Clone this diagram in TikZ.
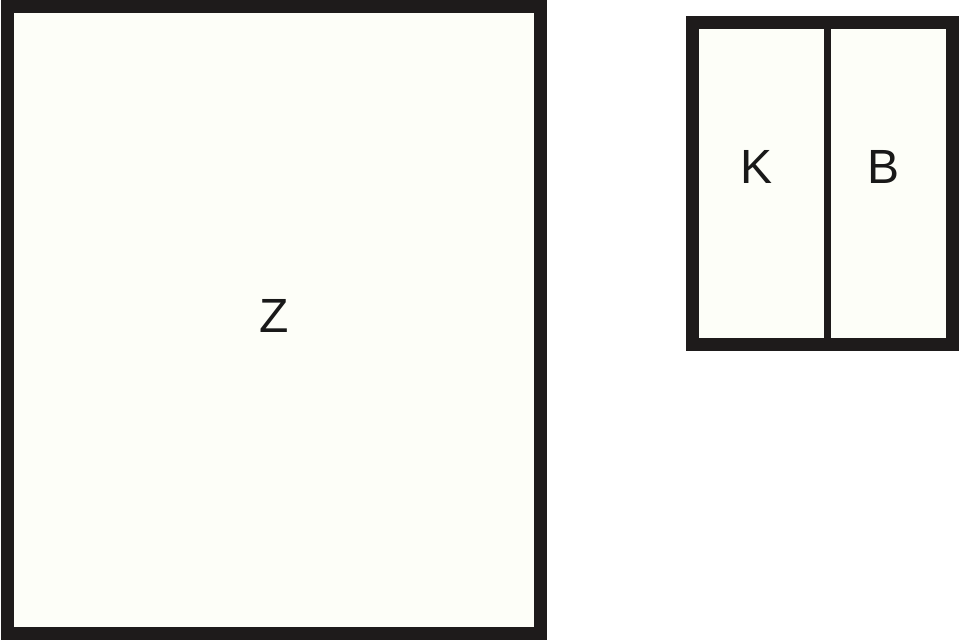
\documentclass[tikz,border=0pt]{standalone}
\usepackage{fontspec}
\setmainfont{Liberation Sans}
\usepackage{tikz}
\usetikzlibrary{backgrounds,calc,positioning}
\definecolor{wallfill}{HTML}{FDFEF8}
\definecolor{wallline}{HTML}{1E1B1B}
\tikzstyle{room}=[draw=wallline,fill=wallfill,line width=6.5pt]
\tikzstyle{partition}=[draw=wallline,line width=3.5pt]
\tikzstyle{label}=[inner sep=0pt,text=black!90,font=\fontsize{24}{28}\selectfont]

\begin{document}
\begin{tikzpicture}[x=0.5pt, y=-0.5pt]
    \useasboundingbox (0,0) rectangle (960,640);

    % big room
    \draw[room] (7,6.5) rectangle (540,633.5);
    \node[label](zroom) at (274,316) {Z};

    % small room with two cells
    \draw[room] (692,23) rectangle (952,345);
    \coordinate (divtop) at (827,29);
    \coordinate (divbot) at (827,339);
    \draw[partition] (divtop) -- (divbot);
    \node[label](kroom) at (757,167) {K};
    \node[label](broom) at (884,167) {B};
\end{tikzpicture}
\end{document}
